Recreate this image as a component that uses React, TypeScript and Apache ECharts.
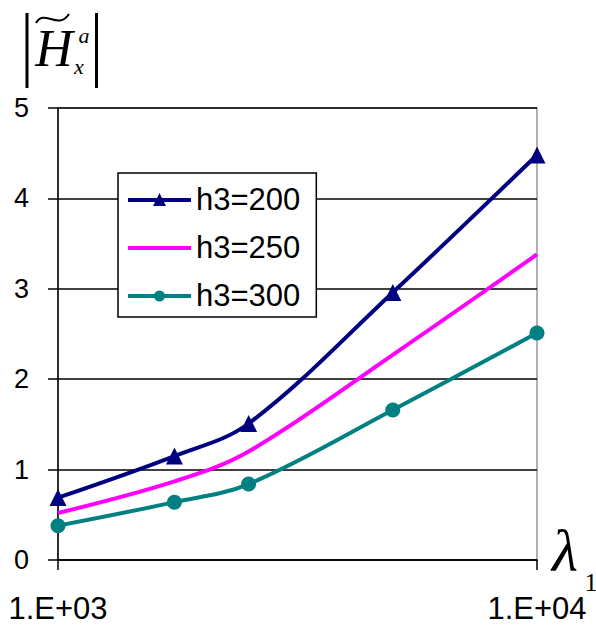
import React, { useEffect, useRef } from "react";
import * as echarts from "echarts";

const xValues = [1000, 1750, 2500, 5000, 10000];
const seriesNames = ["h3=200", "h3=250", "h3=300"];
const h200 = [0.69, 1.15, 1.51, 2.96, 4.48];
const h250 = [0.52, 0.87, 1.2, 2.27, 3.38];
const h300 = [0.38, 0.64, 0.84, 1.66, 2.51];
const xTickLabels: Record<string, string> = { "1000": "1.E+03", "10000": "1.E+04" };

const pairs = (ys: number[]) => xValues.map((x, i) => [x, ys[i]]);

// legend icons (63 x 15 boxes): line + marker
const iconTriangle = "path://M0 6 L63 6 L63 10 L0 10 Z M31.5 1 L38 14 L25 14 Z M0 0 L63 0 L0 0 Z M0 15 L63 15 L0 15 Z";
const iconLine = "path://M0 6 L63 6 L63 10 L0 10 Z M0 0 L63 0 L0 0 Z M0 15 L63 15 L0 15 Z";
const iconCircle = "path://M0 6 L63 6 L63 10 L0 10 Z M37 8 A5.5 5.5 0 1 1 26 8 A5.5 5.5 0 1 1 37 8 Z M0 0 L63 0 L0 0 Z M0 15 L63 15 L0 15 Z";

export default function App() {
  const ref = useRef<HTMLDivElement>(null);
  useEffect(() => {
    if (!ref.current) return;
    const chart = echarts.init(ref.current, undefined, { renderer: "svg" });
    const sans = "'Liberation Sans', Arial, sans-serif";
    const serif = "'Liberation Serif', 'Times New Roman', serif";
    chart.setOption({
      animation: false,
      backgroundColor: "#fff",
      grid: {
        left: 58,
        right: 59,
        top: 108,
        bottom: 65,
        show: true,
        borderColor: "#999",
        borderWidth: 1.5,
        backgroundColor: "transparent",
      },
      legend: {
        orient: "vertical",
        left: 118,
        top: 173,
        padding: [11, 16, 6, 10],
        itemWidth: 63,
        itemHeight: 15,
        itemGap: 17,
        symbolKeepAspect: false,
        backgroundColor: "#fff",
        borderColor: "#000",
        borderWidth: 1.5,
        borderRadius: 0,
        data: [
          { name: seriesNames[0], icon: iconTriangle, itemStyle: { borderWidth: 0 } },
          { name: seriesNames[1], icon: iconLine, itemStyle: { borderWidth: 0 } },
          { name: seriesNames[2], icon: iconCircle, itemStyle: { borderWidth: 0 } },
        ],
        textStyle: { fontSize: 31, fontFamily: sans, color: "#000" },
      },
      xAxis: {
        type: "log",
        logBase: 10,
        min: 1000,
        max: 10000,
        axisLine: { show: true, lineStyle: { color: "#000", width: 1.5 } },
        axisTick: { show: true, length: 10, lineStyle: { color: "#000", width: 1.5 } },
        minorTick: { show: false },
        splitLine: { show: false },
        axisLabel: {
          fontSize: 31,
          fontFamily: sans,
          color: "#000",
          margin: 33,
          formatter: (v: number) => xTickLabels[String(Math.round(v))] ?? "",
        },
      },
      yAxis: {
        type: "value",
        min: 0,
        max: 5,
        interval: 1,
        axisLine: { show: true, lineStyle: { color: "#000", width: 1.5 } },
        axisTick: { show: true, length: 10, lineStyle: { color: "#000", width: 1.5 } },
        splitLine: { show: true, lineStyle: { color: "#000", width: 1.5 } },
        axisLabel: { fontSize: 27, fontFamily: sans, color: "#000", margin: 29 },
      },
      series: [
        {
          name: seriesNames[0],
          type: "line",
          data: pairs(h200),
          smooth: 0.35,
          symbol: "triangle",
          symbolSize: 17,
          color: "#000080",
          lineStyle: { color: "#000080", width: 4 },
          itemStyle: { color: "#000080" },
        },
        {
          name: seriesNames[1],
          type: "line",
          data: pairs(h250),
          smooth: 0.35,
          symbol: "none",
          color: "#ff00ff",
          lineStyle: { color: "#ff00ff", width: 4 },
          itemStyle: { color: "#ff00ff" },
        },
        {
          name: seriesNames[2],
          type: "line",
          data: pairs(h300),
          smooth: 0.35,
          symbol: "circle",
          symbolSize: 15,
          color: "#008080",
          lineStyle: { color: "#008080", width: 4 },
          itemStyle: { color: "#008080" },
        },
      ],
      graphic: [
        { type: "line", shape: { x1: 27, y1: 13, x2: 27, y2: 88 }, style: { stroke: "#000", lineWidth: 3 } },
        { type: "line", shape: { x1: 96.5, y1: 13, x2: 96.5, y2: 88 }, style: { stroke: "#000", lineWidth: 3 } },
        {
          type: "text",
          style: { text: "H", x: 54, y: 48, font: `italic 52px ${serif}`, fill: "#000", textAlign: "center", textVerticalAlign: "middle" },
        },
        {
          type: "bezierCurve",
          shape: { x1: 36, y1: 23, cpx1: 44, cpy1: 8, cpx2: 58, cpy2: 31, x2: 69, y2: 14 },
          style: { stroke: "#000", lineWidth: 2, fill: "none" },
        },
        {
          type: "text",
          style: { text: "a", x: 84, y: 35, font: `italic 22px ${serif}`, fill: "#000", textAlign: "center", textVerticalAlign: "middle" },
        },
        {
          type: "text",
          style: { text: "x", x: 79, y: 66, font: `italic 22px ${serif}`, fill: "#000", textAlign: "center", textVerticalAlign: "middle" },
        },
        {
          type: "text",
          style: { text: "λ", x: 565, y: 551, font: `italic 60px ${serif}`, fill: "#000", textAlign: "center", textVerticalAlign: "middle" },
        },
        {
          type: "text",
          style: { text: "1", x: 591, y: 582, font: `26px ${serif}`, fill: "#000", textAlign: "center", textVerticalAlign: "middle" },
        },
      ],
    });
    return () => chart.dispose();
  }, []);
  return (
    <div
      ref={ref}
      style={{ position: "fixed", left: 0, top: 0, width: 596, height: 625, background: "#fff" }}
    />
  );
}
